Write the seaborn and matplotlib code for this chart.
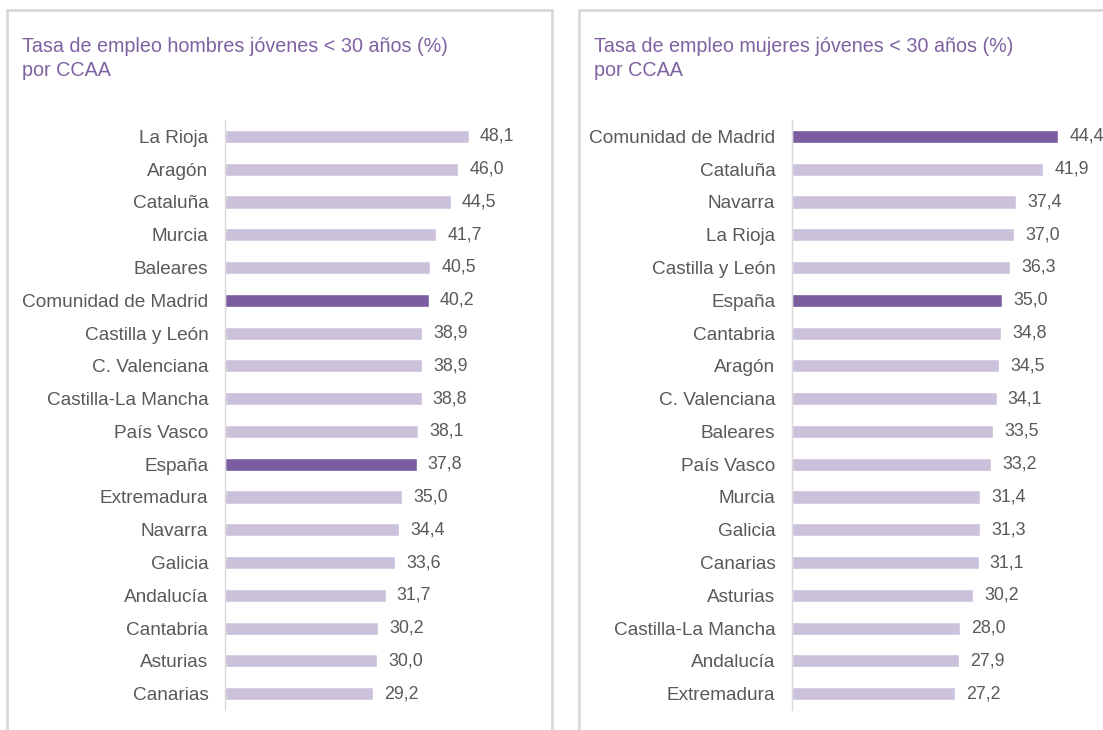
import matplotlib
matplotlib.use("Agg")
import matplotlib.pyplot as plt
from matplotlib import font_manager
from matplotlib.patches import Rectangle
import seaborn as sns
import pandas as pd

# Datos: hombres
regiones_h = ["La Rioja", "Aragón", "Cataluña", "Murcia", "Baleares",
              "Comunidad de Madrid", "Castilla y León", "C. Valenciana",
              "Castilla-La Mancha", "País Vasco", "España", "Extremadura",
              "Navarra", "Galicia", "Andalucía", "Cantabria", "Asturias",
              "Canarias"]
valores_h = [48.1, 46.0, 44.5, 41.7, 40.5, 40.2, 38.9, 38.9, 38.8, 38.1,
             37.8, 35.0, 34.4, 33.6, 31.7, 30.2, 30.0, 29.2]

# Datos: mujeres
regiones_m = ["Comunidad de Madrid", "Cataluña", "Navarra", "La Rioja",
              "Castilla y León", "España", "Cantabria", "Aragón",
              "C. Valenciana", "Baleares", "País Vasco", "Murcia", "Galicia",
              "Canarias", "Asturias", "Castilla-La Mancha", "Andalucía",
              "Extremadura"]
valores_m = [44.4, 41.9, 37.4, 37.0, 36.3, 35.0, 34.8, 34.5, 34.1, 33.5,
             33.2, 31.4, 31.3, 31.1, 30.2, 28.0, 27.9, 27.2]

destacadas = ["Comunidad de Madrid", "España"]

titulo_h = "Tasa de empleo hombres jóvenes < 30 años (%)\npor CCAA"
titulo_m = "Tasa de empleo mujeres jóvenes < 30 años (%)\npor CCAA"

CLARO = "#CBC1DB"
OSCURO = "#7B5C9E"
GRIS = "#595959"
MORADO = "#7E62A1"
BORDE = "#D9D9D9"

sns.set_theme(style="white")
disponibles = {f.name for f in font_manager.fontManager.ttflist}
fuente = "Liberation Sans Narrow" if "Liberation Sans Narrow" in disponibles else "Liberation Sans"
plt.rcParams["font.family"] = [fuente, "DejaVu Sans"]

W, H = 1103, 730
fig = plt.figure(figsize=(W / 100, H / 100), dpi=100)


def px(x0, y0, w, h):
    # rectángulo en píxeles (origen arriba-izquierda) -> coords de figura
    return [x0 / W, 1 - (y0 + h) / H, w / W, h / H]


def panel(rect, regiones, valores, xmax, titulo, caja):
    # marco del panel
    bx, by, bw, bh = caja
    fig.patches.append(Rectangle((bx / W, 1 - (by + bh) / H), bw / W, bh / H,
                                 transform=fig.transFigure, fill=False,
                                 edgecolor=BORDE, linewidth=2))
    fig.text((bx + 15) / W, 1 - (by + 27) / H, titulo, color=MORADO,
             fontsize=14.2, va="top", ha="left", linespacing=1.35)

    ax = fig.add_axes(px(*rect))
    df = pd.DataFrame({"region": regiones, "valor": valores})
    colores = {r: (OSCURO if r in destacadas else CLARO) for r in regiones}
    sns.barplot(data=df, x="valor", y="region", hue="region", palette=colores,
                legend=False, width=0.4, ax=ax, saturation=1)
    for cont in ax.containers:
        ax.bar_label(cont, labels=[f"{v.get_width():.1f}".replace(".", ",") for v in cont],
                     padding=8, color=GRIS, fontsize=12.8)
    ax.set_xlim(0, xmax)
    ax.set_ylim(len(regiones) - 0.5, -0.5)
    ax.set_xlabel("")
    ax.set_ylabel("")
    ax.set_xticks([])
    ax.tick_params(axis="y", length=0, pad=12, labelsize=13.7, labelcolor=GRIS)
    for s in ["top", "right", "bottom"]:
        ax.spines[s].set_visible(False)
    ax.spines["left"].set_color(BORDE)
    ax.spines["left"].set_linewidth(1)
    ax.set_facecolor("none")
    return ax


panel((225, 120, 315, 590), regiones_h, valores_h, 315 / 5.07, titulo_h,
      (7, 10, 545, 730))
panel((792, 120, 311, 590), regiones_m, valores_m, 311 / 6.0, titulo_m,
      (579, 10, 540, 730))

fig.savefig("out.png", dpi=100)
